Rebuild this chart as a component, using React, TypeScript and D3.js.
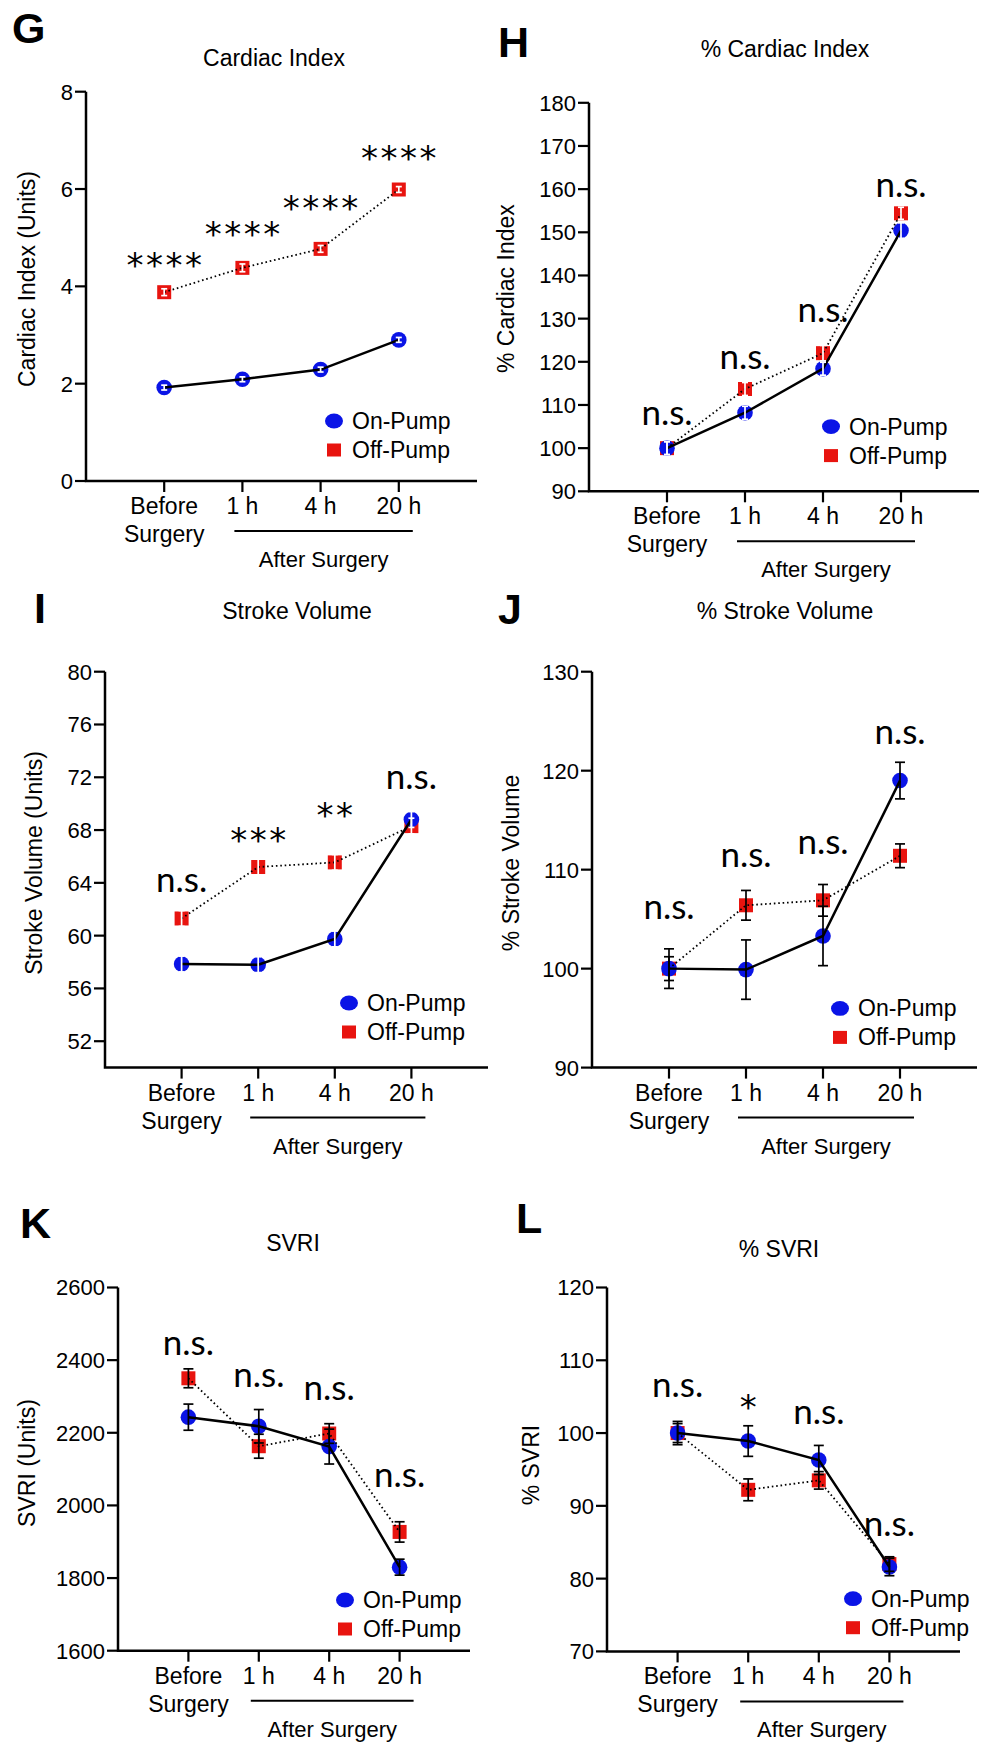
import React from 'react';
import * as d3 from 'd3';

const categories = ['Before Surgery', '1 h', '4 h', '20 h'];
const seriesNames = ['On-Pump', 'Off-Pump'];

// G - Cardiac Index
const ciOn = [1.92, 2.09, 2.29, 2.9];
const ciOnErr = [0.05, 0.05, 0.05, 0.05];
const ciOff = [3.88, 4.38, 4.77, 5.99];
const ciOffErr = [0.07, 0.08, 0.07, 0.06];
const ciTicks = [0, 2, 4, 6, 8];
const ciSig = ['****', '****', '****', '****'];
const ciSigY = [4.54, 5.18, 5.72, 6.74];

// H - % Cardiac Index
const pciOn = [100, 108.2, 118.4, 150.4];
const pciOnErr = [1.5, 1.5, 1.5, 1.8];
const pciOff = [100, 113.7, 122.0, 154.4];
const pciOffErr = [1.5, 1.5, 1.8, 1.4];
const pciTicks = [90, 100, 110, 120, 130, 140, 150, 160, 170, 180];
const pciSig = ['n.s.', 'n.s.', 'n.s.', 'n.s.'];
const pciSigY = [105.4, 118.3, 129.3, 158.1];

// I - Stroke Volume
const svOn = [57.85, 57.8, 59.75, 68.8];
const svOnErr = [0.6, 0.6, 0.6, 0.6];
const svOff = [61.3, 65.2, 65.55, 68.3];
const svOffErr = [0.6, 0.6, 0.6, 0.6];
const svTicks = [52, 56, 60, 64, 68, 72, 76, 80];
const svSig = ['n.s.', '***', '**', 'n.s.'];
const svSigY = [63.3, 67.6, 69.5, 71.1];

// J - % Stroke Volume
const psvOn = [100, 99.9, 103.3, 119.0];
const psvOnErr = [2.0, 3.0, 3.0, 1.85];
const psvOff = [100, 106.4, 106.9, 111.4];
const psvOffErr = [1.2, 1.5, 1.6, 1.2];
const psvTicks = [90, 100, 110, 120, 130];
const psvSig = ['n.s.', 'n.s.', 'n.s.', 'n.s.'];
const psvSigY = [105.06, 110.3, 111.6, 122.7];

// K - SVRI
const svriOn = [2243, 2218, 2162, 1830];
const svriOnErr = [36, 46, 48, 22];
const svriOff = [2350, 2163, 2198, 1927];
const svriOffErr = [26, 33, 27, 28];
const svriTicks = [1600, 1800, 2000, 2200, 2400, 2600];
const svriSig = ['n.s.', 'n.s.', 'n.s.', 'n.s.'];
const svriSigY = [2413, 2327, 2290, 2051];

// L - % SVRI
const psvriOn = [100, 98.9, 96.3, 81.6];
const psvriOnErr = [1.6, 2.1, 2.0, 1.2];
const psvriOff = [100, 92.2, 93.5, 82.0];
const psvriOffErr = [1.3, 1.5, 1.2, 1.0];
const psvriTicks = [70, 80, 90, 100, 110, 120];
const psvriSig = ['n.s.', '*', 'n.s.', 'n.s.'];
const psvriSigY = [104.9, 104.3, 101.2, 85.9];

const SANS = "'Liberation Sans', Arial, sans-serif";
const CAL = "Lato, 'Open Sans', sans-serif";
const BLUE = '#0a14e6';
const RED = '#e8140f';

const panels = [
  { letter: 'G', title: 'Cardiac Index', yLabel: 'Cardiac Index (Units)', on: ciOn, onErr: ciOnErr, off: ciOff, offErr: ciOffErr, ticks: ciTicks, sig: ciSig, sigY: ciSigY, domain: [0, 8], whiteErr: true,
    left: 86, right: 477, top: 91.7, bottom: 481, letterX: 12, letterY: 42.5, titleX: 274, titleY: 66, yLabelX: 35, yLabelY: 279, legX: 334, legY: 421 },
  { letter: 'H', title: '% Cardiac Index', yLabel: '% Cardiac Index', on: pciOn, onErr: pciOnErr, off: pciOff, offErr: pciOffErr, ticks: pciTicks, sig: pciSig, sigY: pciSigY, domain: [90, 180], whiteErr: true,
    left: 589, right: 979, top: 102.8, bottom: 491.3, letterX: 498, letterY: 57, titleX: 785, titleY: 57.3, yLabelX: 514, yLabelY: 288.6, legX: 831, legY: 426.6 },
  { letter: 'I', title: 'Stroke Volume', yLabel: 'Stroke Volume (Units)', on: svOn, onErr: svOnErr, off: svOff, offErr: svOffErr, ticks: svTicks, sig: svSig, sigY: svSigY, domain: [50, 80], whiteErr: true,
    left: 105, right: 488, top: 671.7, bottom: 1067.6, letterX: 34, letterY: 622.5, titleX: 297, titleY: 618.8, yLabelX: 42, yLabelY: 863, legX: 349, legY: 1003 },
  { letter: 'J', title: '% Stroke Volume', yLabel: '% Stroke Volume', on: psvOn, onErr: psvOnErr, off: psvOff, offErr: psvOffErr, ticks: psvTicks, sig: psvSig, sigY: psvSigY, domain: [90, 130], whiteErr: false,
    left: 592, right: 977, top: 671.7, bottom: 1067.6, letterX: 498, letterY: 624, titleX: 785, titleY: 618.8, yLabelX: 519, yLabelY: 863, legX: 840, legY: 1008.4 },
  { letter: 'K', title: 'SVRI', yLabel: 'SVRI (Units)', on: svriOn, onErr: svriOnErr, off: svriOff, offErr: svriOffErr, ticks: svriTicks, sig: svriSig, sigY: svriSigY, domain: [1600, 2600], whiteErr: false,
    left: 118, right: 470, top: 1287.5, bottom: 1650.7, letterX: 20, letterY: 1238, titleX: 293, titleY: 1251, yLabelX: 35, yLabelY: 1463, legX: 345, legY: 1600 },
  { letter: 'L', title: '% SVRI', yLabel: '% SVRI', on: psvriOn, onErr: psvriOnErr, off: psvriOff, offErr: psvriOffErr, ticks: psvriTicks, sig: psvriSig, sigY: psvriSigY, domain: [70, 120], whiteErr: false,
    left: 607, right: 960, top: 1287.5, bottom: 1651.4, letterX: 516, letterY: 1232.5, titleX: 779, titleY: 1257.4, yLabelX: 539, yLabelY: 1465, legX: 853, legY: 1598.7 },
];

function Panel({ c }: { c: any }) {
  const x = d3.scalePoint<string>().domain(categories).range([c.left, c.right]).padding(1);
  const y = d3.scaleLinear().domain(c.domain).range([c.bottom, c.top]);
  const line = d3.line<number>().x((_, i) => x(categories[i]) as number).y(d => y(d));
  const errColor = c.whiteErr ? '#fff' : '#000';
  const capW = c.whiteErr ? 3 : 5;

  const errBars = (vals: number[], errs: number[], key: string) =>
    vals.map((v, i) => {
      const cx = x(categories[i]) as number;
      const y1 = y(v + errs[i]);
      const y2 = y(v - errs[i]);
      return (
        <g key={key + i} stroke={errColor} strokeWidth={1.7}>
          <line x1={cx} x2={cx} y1={y1} y2={y2} />
          <line x1={cx - capW} x2={cx + capW} y1={y1} y2={y1} />
          <line x1={cx - capW} x2={cx + capW} y1={y2} y2={y2} />
        </g>
      );
    });

  const x1h = x(categories[1]) as number;
  const x20 = x(categories[3]) as number;
  const afterL = x1h - 8;
  const afterR = x20 + 14;

  return (
    <g>
      <text x={c.letterX} y={c.letterY} fontFamily="'Liberation Sans', Arial, sans-serif" fontWeight={700} fontSize={43}>{c.letter}</text>
      <text x={c.titleX} y={c.titleY} textAnchor="middle" fontFamily={SANS} fontSize={23}>{c.title}</text>
      <text transform={`translate(${c.yLabelX},${c.yLabelY}) rotate(-90)`} textAnchor="middle" fontFamily={SANS} fontSize={23}>{c.yLabel}</text>

      {/* axes */}
      <path d={`M${c.left},${c.top}V${c.bottom}H${c.right}`} fill="none" stroke="#000" strokeWidth={2.5} />
      {c.ticks.map((t: number) => (
        <g key={'yt' + t}>
          <line x1={c.left - 11} x2={c.left} y1={y(t)} y2={y(t)} stroke="#000" strokeWidth={2.2} />
          <text x={c.left - 13} y={y(t)} dy="0.36em" textAnchor="end" fontFamily={SANS} fontSize={22}>{t}</text>
        </g>
      ))}
      {categories.map((cat, i) => {
        const cx = x(cat) as number;
        return (
          <g key={'xt' + i}>
            <line x1={cx} x2={cx} y1={c.bottom} y2={c.bottom + 11} stroke="#000" strokeWidth={2.2} />
            {cat === 'Before Surgery' ? (
              <text x={cx} y={c.bottom + 33} textAnchor="middle" fontFamily={SANS} fontSize={23}>
                <tspan x={cx}>Before</tspan>
                <tspan x={cx} dy={28}>Surgery</tspan>
              </text>
            ) : (
              <text x={cx} y={c.bottom + 33} textAnchor="middle" fontFamily={SANS} fontSize={23}>{cat}</text>
            )}
          </g>
        );
      })}
      <line x1={afterL} x2={afterR} y1={c.bottom + 50} y2={c.bottom + 50} stroke="#000" strokeWidth={2} />
      <text x={(afterL + afterR) / 2} y={c.bottom + 86} textAnchor="middle" fontFamily={SANS} fontSize={22}>After Surgery</text>

      {/* markers */}
      {c.off.map((v: number, i: number) => (
        <rect key={'sq' + i} x={(x(categories[i]) as number) - 7} y={y(v) - 7} width={14} height={14} fill={RED} />
      ))}
      {c.on.map((v: number, i: number) => (
        <circle key={'ci' + i} cx={x(categories[i]) as number} cy={y(v)} r={7.8} fill={BLUE} />
      ))}

      {/* lines */}
      <path d={line(c.off) || ''} fill="none" stroke="#000" strokeWidth={1.8} strokeDasharray="1.6 2.8" />
      <path d={line(c.on) || ''} fill="none" stroke="#000" strokeWidth={2.5} />

      {errBars(c.off, c.offErr, 'eo')}
      {errBars(c.on, c.onErr, 'en')}

      {/* significance */}
      {c.sig.map((s: string, i: number) => {
        const cx = x(categories[i]) as number;
        if (s.startsWith('*')) {
          const n = s.length;
          return (
            <g key={'sig' + i}>
              {d3.range(n).map(k => (
                <text key={k} x={cx + (k - (n - 1) / 2) * 19.5} y={y(c.sigY[i]) + 17} textAnchor="middle" fontFamily="'DejaVu Sans', sans-serif" fontSize={34}>*</text>
              ))}
            </g>
          );
        }
        return <text key={'sig' + i} x={cx} y={y(c.sigY[i])} textAnchor="middle" fontFamily={CAL} fontSize={35}>{s}</text>;
      })}

      {/* legend */}
      <ellipse cx={c.legX} cy={c.legY} rx={9} ry={7.4} fill={BLUE} />
      <text x={c.legX + 18} y={c.legY + 8} fontFamily={SANS} fontSize={23}>{seriesNames[0]}</text>
      <rect x={c.legX - 7} y={c.legY + 29 - 6.5} width={14} height={13} fill={RED} />
      <text x={c.legX + 18} y={c.legY + 29 + 8} fontFamily={SANS} fontSize={23}>{seriesNames[1]}</text>
    </g>
  );
}

export default function App() {
  return (
    <svg width={984} height={1743} style={{ position: 'absolute', left: 0, top: 0, background: '#fff' }}>
      <rect width={984} height={1743} fill="#fff" />
      {panels.map(p => <Panel key={p.letter} c={p} />)}
    </svg>
  );
}
